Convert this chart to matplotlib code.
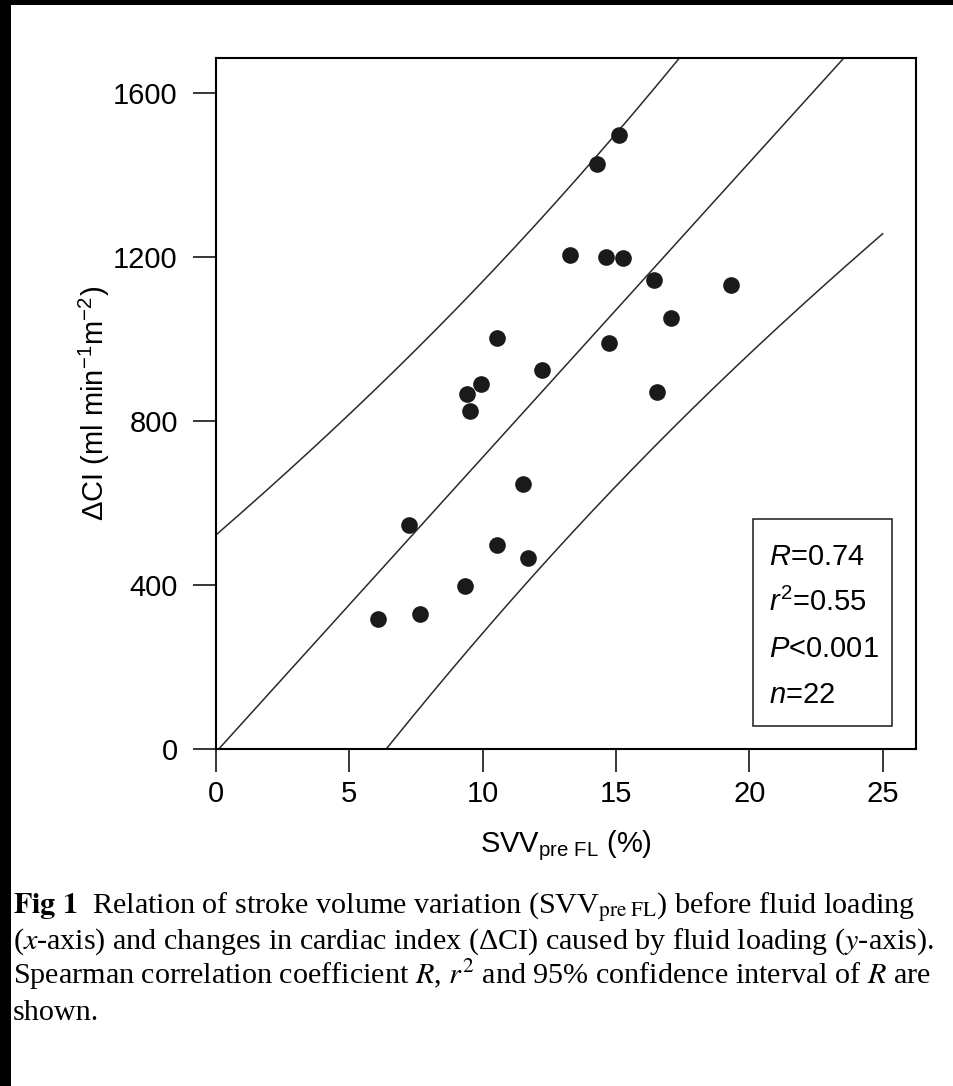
# Scatter of SVV before fluid loading vs change in cardiac index, with fit and band
import numpy as np
import matplotlib
matplotlib.use("Agg")
import matplotlib.pyplot as plt
from matplotlib.patches import Rectangle

# data
svv = [15.13, 14.30, 13.28, 14.62, 15.26, 16.42, 19.33, 17.06, 14.74, 10.52, 12.21,
       9.94, 9.40, 9.54, 16.55, 11.52, 7.24, 10.54, 11.71, 9.35, 7.65, 6.06]
delta_ci = [1498, 1427, 1205, 1199, 1197, 1143, 1131, 1050, 989, 1003, 924,
            890, 866, 824, 870, 646, 546, 498, 465, 398, 329, 316]

x_ticks = [0, 5, 10, 15, 20, 25]
y_ticks = [0, 400, 800, 1200, 1600]
stats_lines = [r"$R$=0.74", r"$r^2$=0.55", r"$P$<0.001", r"$n$=22"]

caption_lines = [
    r"$\mathbf{Fig\ 1}$  Relation of stroke volume variation (SVV$_{\rm pre\ FL}$) before fluid loading",
    r"($x$-axis) and changes in cardiac index (ΔCI) caused by fluid loading ($y$-axis).",
    r"Spearman correlation coefficient $R$, $r^2$ and 95% confidence interval of $R$ are",
    "shown.",
]

T_BAND = 1.725  # t value used for the band around the fit

plt.rcParams["font.family"] = ["Liberation Sans", "DejaVu Sans"]
plt.rcParams["mathtext.fontset"] = "custom"
plt.rcParams["mathtext.rm"] = "Liberation Sans"
plt.rcParams["mathtext.it"] = "Liberation Sans:italic"
plt.rcParams["mathtext.bf"] = "Liberation Sans:bold"

W, H = 954, 1086
fig = plt.figure(figsize=(W / 100, H / 100), dpi=100)

# black scan edges
fig.add_artist(Rectangle((0, 0), 11 / W, 1, transform=fig.transFigure, color="black", lw=0))
fig.add_artist(Rectangle((0, 1 - 5 / H), 1, 5 / H, transform=fig.transFigure, color="black", lw=0))

ax = fig.add_axes([216 / W, (H - 749) / H, 700 / W, 691 / H])

# least squares fit and band
x = np.array(svv)
y = np.array(delta_ci)
n = len(x)
b, a = np.polyfit(x, y, 1)
resid = y - (a + b * x)
s = np.sqrt(np.sum(resid ** 2) / (n - 2))
xm = x.mean()
sxx = np.sum((x - xm) ** 2)
xs = np.linspace(0, 25, 300)
fit = a + b * xs
hw = T_BAND * s * np.sqrt(1 + 1 / n + (xs - xm) ** 2 / sxx)

line_kw = dict(color="#2a2a2a", lw=1.1)
ax.plot(xs, fit, **line_kw)
ax.plot(xs, fit + hw, **line_kw)
ax.plot(xs, fit - hw, **line_kw)

ax.plot(x, y, "o", color="#1a1a1a", markersize=12, markeredgewidth=0, zorder=3)

ax.set_xlim(0, 26.25)
ax.set_ylim(0, 1685)
ax.set_xticks(x_ticks)
ax.set_yticks(y_ticks)
ax.tick_params(direction="out", length=16.5, width=1.1, labelsize=21)
ax.tick_params(axis="y", pad=11)
ax.tick_params(axis="x", pad=6)
for sp in ax.spines.values():
    sp.set_linewidth(1.5)

ax.set_xlabel(r"SVV$_{\mathrm{pre\ FL}}$ (%)", fontsize=21)
ax.set_ylabel(r"ΔCI (ml min$^{-1}$m$^{-2}$)", fontsize=21)
ax.xaxis.set_label_coords(0.5, -0.115)
ax.yaxis.set_label_coords(-0.148, 0.5)

# stats box
ax.add_patch(Rectangle((0.767, 0.033), 0.199, 0.300, transform=ax.transAxes,
                       fill=False, edgecolor="#1a1a1a", lw=1.1))
for i, txt in enumerate(stats_lines):
    ax.text(0.79, 0.278 - i * 0.0665, txt, transform=ax.transAxes,
            fontsize=21, va="center", ha="left")

# caption
for i, txt in enumerate(caption_lines):
    fig.text(13 / W, 1 - (913 + i * 35.5) / H, txt, fontsize=21.7,
             family=["Liberation Serif", "DejaVu Serif"], math_fontfamily="stix",
             va="baseline", ha="left")

fig.savefig("out.png", dpi=100)
